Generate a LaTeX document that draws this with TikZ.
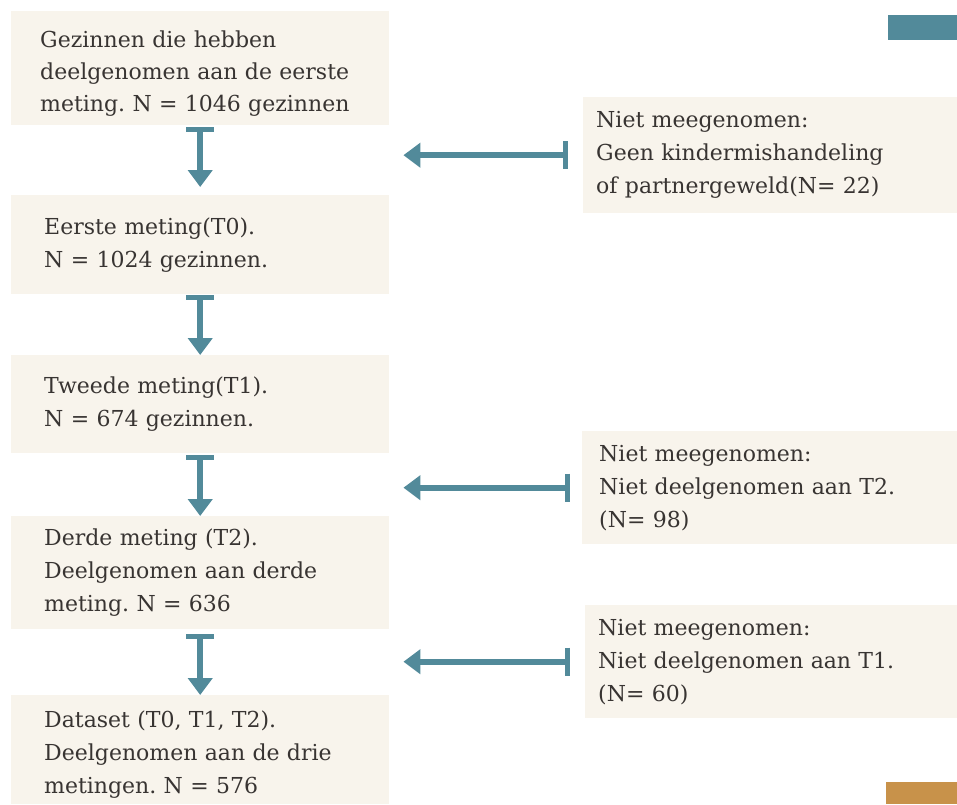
\documentclass[tikz,border=0pt]{standalone}
\usepackage{fontspec}
\setmainfont{DejaVu Serif}
\usetikzlibrary{arrows.meta}
\definecolor{boxfill}{RGB}{248,244,236}
\definecolor{flowteal}{RGB}{82,138,154}
\definecolor{cornerorange}{RGB}{200,146,74}
\definecolor{textgray}{RGB}{56,52,50}
\frenchspacing
% arrow from an exclusion box back to the main column
\newcommand{\exclude}[3]{\draw[flow, shorten <=#3pt, shorten >=14pt] (#1.west) -- (#1.west -| #2.east);}
% lowers the first line of a box a little
\newcommand{\lowfirst}{\rule{0pt}{27pt}}

\begin{document}
\begin{tikzpicture}
                [x=1pt,y=-1pt,
                box/.style={fill=boxfill, text=textgray, anchor=north west, align=left, inner ysep=0pt, font=\fontsize{22}{33}\selectfont},
                leftbox/.style={box, inner xsep=33pt, text width=312pt, minimum height=#1},
                rightbox/.style={box, inner xsep=14pt, text width=346pt, minimum height=#1},
                flow/.style={flowteal, line width=6pt, {Bar[width=28pt,line width=5pt]}-{Triangle[width=24pt,length=17pt]}},
                ]
                \useasboundingbox (0,0) rectangle (957,804);
                \node[leftbox=114pt, inner xsep=29pt, text width=320pt, font=\fontsize{22}{32}\selectfont] (b1) at (11,11) {\lowfirst Gezinnen die hebben\\deelgenomen aan de eerste\\meting. N = 1046 gezinnen};
                \node[leftbox=99pt] (b2) at (11,195) {Eerste meting(T0).\\N = 1024 gezinnen.};
                \node[leftbox=98pt] (b3) at (11,355) {Tweede meting(T1).\\N = 674 gezinnen.};
                \node[leftbox=113pt] (b4) at (11,516) {Derde meting (T2).\\Deelgenomen aan derde\\meting. N = 636};
                \node[leftbox=109pt] (b5) at (11,695) {\lowfirst Dataset (T0, T1, T2).\\Deelgenomen aan de drie\\metingen. N = 576};
                \node[rightbox=116pt, inner xsep=13pt, text width=348pt] (bA) at (583,97) {Niet meegenomen:\\Geen kindermishandeling\\of partnergeweld(N= 22)};
                \node[rightbox=113pt, inner xsep=17pt, text width=341pt] (bB) at (582,431) {Niet meegenomen:\\Niet deelgenomen aan T2.\\(N= 98)};
                \node[rightbox=113pt, inner xsep=13pt, text width=346pt] (bC) at (585,605) {Niet meegenomen:\\Niet deelgenomen aan T1.\\(N= 60)};
                \foreach \a/\b/\s/\e in {b1/b2/2/8, b2/b3/1/0, b3/b4/2/0, b4/b5/5/0}
                    \draw[flow, shorten <=\s pt, shorten >=\e pt] (\a.south) -- (\b.north);
                \exclude{bA}{b1}{15}
                \exclude{bB}{b3}{12}
                \exclude{bC}{b4}{15}
                \fill[flowteal] (888,15) rectangle (957,40);
                \fill[cornerorange] (886,782) rectangle (957,804);
            \end{tikzpicture}
\end{document}
